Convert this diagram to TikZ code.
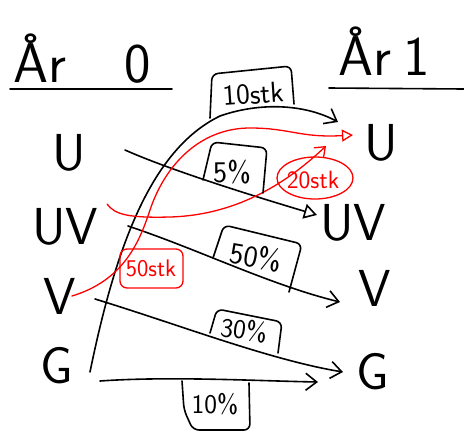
\documentclass[tikz,border=0pt]{standalone}
\usepackage{fontspec}
\usetikzlibrary{arrows.meta}
\tikzset{
  ink/.style={line width=1.6pt, line cap=round, line join=round},
  redink/.style={line width=1.3pt, draw=red, line cap=round, line join=round},
  ttl/.style={font=\sffamily\fontsize{56}{58}\selectfont, anchor=base west, inner sep=0pt},
  lbl/.style={font=\sffamily\fontsize{52}{54}\selectfont, anchor=base, inner sep=0pt},
  pct/.style={font=\sffamily\fontsize{30}{32}\selectfont, inner sep=0pt},
  rtxt/.style={text=red, font=\sffamily\fontsize{24}{26}\selectfont, inner sep=0pt},
  barb/.style={-{Straight Barb[length=11pt,width=17pt,line width=1.6pt]}},
  rbarb/.style={-{Straight Barb[length=9pt,width=14pt,line width=1.3pt]}},
  tri/.style={-{Triangle[open,length=13pt,width=15pt,line width=1.6pt]}},
  rtri/.style={-{Triangle[open,length=11pt,width=12pt,line width=1.3pt]}},
}
\begin{document}
\begin{tikzpicture}[x=1pt,y=-1pt]
\useasboundingbox (0,0) rectangle (464,432);
% titles
\node[ttl] (t0) at (13,82) {År\hspace{58pt}0};
\node[ttl] (t1) at (338,75) {År\hspace{12pt}1};
\draw[ink] (10,89) -- (172,89);
\draw[ink] (329,88) -- (464,89);
% left labels
\node[lbl] (lU) at (69,170) {U};
\node[lbl] (lUV) at (65,244) {UV};
\node[lbl] (lV) at (60,314) {V};
\node[lbl] (lG) at (57,383) {G};
% right labels
\node[lbl] (rU) at (381,160) {U};
\node[lbl] (rUV) at (353,240) {UV};
\node[lbl] (rV) at (375,306) {V};
\node[lbl] (rG) at (373,389) {G};
% connector end points
\coordinate (a1s) at (125,150); \coordinate (a1e) at (317,215);
\coordinate (a2s) at (128,226); \coordinate (a2e) at (340,302);
\coordinate (a3s) at (95,299);  \coordinate (a3e) at (343,372);
\coordinate (a4s) at (100,381); \coordinate (a4e) at (318,382);
\coordinate (a5s) at (90,372);  \coordinate (a5e) at (338,122);
\coordinate (r1s) at (72,296);  \coordinate (r1e) at (353,135);
\coordinate (r2s) at (107,204); \coordinate (r2e) at (326,146);
% black arrows
\draw[ink,tri] (a1s) .. controls (170,170) and (250,195) .. (a1e);
\draw[ink,barb] (a2s) .. controls (200,250) and (270,285) .. (a2e);
\draw[ink,barb] (a3s) .. controls (180,325) and (270,360) .. (a3e);
\draw[ink,barb] (a4s) .. controls (170,376) and (260,381) .. (a4e);
\draw[ink,barb] (a5s) .. controls (115,250) and (150,150) .. (220,116)
   .. controls (260,102) and (305,104) .. (a5e);
% red arrows
\draw[redink,rtri] (r1s) .. controls (125,280) and (140,240) .. (150,210)
   .. controls (165,165) and (200,128) .. (250,128)
   .. controls (290,128) and (300,138) .. (r1e);
\draw[redink,rbarb] (r2s) .. controls (115,215) and (130,218) .. (170,217)
   .. controls (240,215) and (290,180) .. (r2e);
% black label boxes
\node[pct,font=\sffamily\fontsize{29}{31}\selectfont,rotate=4] (b10) at (253,94) {10stk};
\draw[ink,rounded corners=6pt] (210,118) -- (212,74) -- (291,66) -- (294,104);
\node[pct] (b5) at (232,172) {5\%};
\draw[ink,rounded corners=6pt] (203,180) -- (212,142) -- (267,148) -- (263,193);
\node[pct,rotate=-10] (b50) at (256,257) {50\%};
\draw[ink,rounded corners=6pt] (213,258) -- (224,225) -- (302,244) -- (289,292);
\node[pct,font=\sffamily\fontsize{27}{29}\selectfont,rotate=-8] (b30) at (244,330) {30\%};
\draw[ink,rounded corners=6pt] (210,333) -- (217,309) -- (282,322) -- (278,353);
\node[pct,font=\sffamily\fontsize{27}{29}\selectfont] (b10p) at (215,404) {10\%};
\draw[ink,rounded corners=6pt] (182,381) -- (184,410) -- (193,430) -- (250,430) -- (249,383);
% red labels
\node[rtxt] (s50) at (151,268) {50stk};
\draw[redink,rounded corners=7pt] (120,249) rectangle (183,288);
\node[rtxt,font=\sffamily\fontsize{25}{27}\selectfont] (s20) at (313,180) {20stk};
\draw[redink] (315,178) ellipse [x radius=38, y radius=21];
\end{tikzpicture}
\end{document}
